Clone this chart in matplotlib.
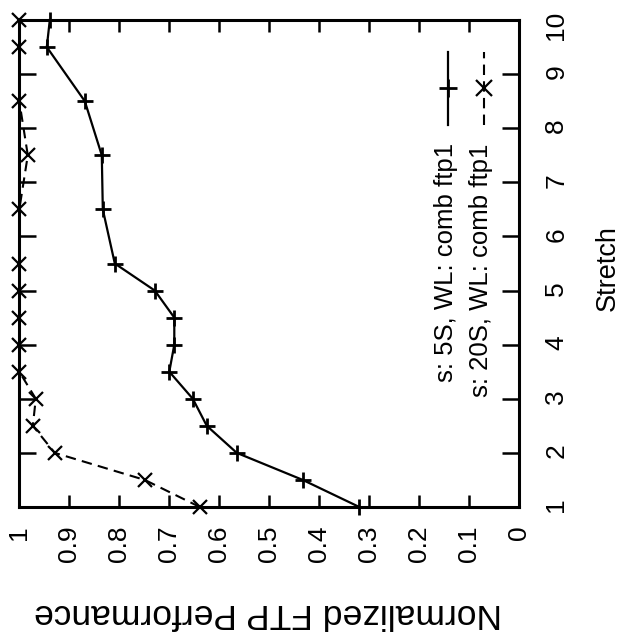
import numpy as np
import matplotlib
matplotlib.use("Agg")
import matplotlib.pyplot as plt

plt.rcParams["font.family"] = "Liberation Sans"

# data (stretch factor vs normalized FTP performance)
stretch = [1, 1.5, 2, 2.5, 3, 3.5, 4, 4.5, 5, 5.5, 6.5, 7.5, 8.5, 9.5, 10]
perf_5s = [0.32, 0.433, 0.565, 0.625, 0.653, 0.70, 0.69, 0.69, 0.729, 0.809,
           0.833, 0.835, 0.869, 0.945, 0.939]
perf_20s = [0.639, 0.749, 0.929, 0.973, 0.967, 1.0, 1.0, 1.0, 1.0, 1.0,
            1.0, 0.983, 1.0, 1.0, 1.0]
labels = ["s: 5S, WL: comb ftp1", "s: 20S, WL: comb ftp1"]

perf_ticks = [0, 0.1, 0.2, 0.3, 0.4, 0.5, 0.6, 0.7, 0.8, 0.9, 1]
perf_ticklabels = ["0", "0.1", "0.2", "0.3", "0.4", "0.5", "0.6", "0.7", "0.8", "0.9", "1"]
stretch_ticks = [1, 2, 3, 4, 5, 6, 7, 8, 9, 10]

fig = plt.figure(figsize=(6.24, 6.39), dpi=100)
ax = fig.add_axes([19.3 / 624, (639 - 507) / 639, 500 / 624, 487 / 639])

# the whole gnuplot page is turned by 90 degrees, so performance runs along x
ax.plot(perf_5s, stretch, color="black", lw=1.6, marker="+", ms=11, mew=2,
        clip_on=False, zorder=3)
ax.plot(perf_20s, stretch, color="black", lw=1.5, ls=(0, (5, 3)), marker="x",
        ms=10, mew=1.6, clip_on=False, zorder=3)

ax.set_xlim(1, 0)
ax.set_ylim(1, 10)
ax.set_xticks(perf_ticks)
ax.set_xticklabels(perf_ticklabels)
ax.set_yticks(stretch_ticks)

for s in ax.spines.values():
    s.set_linewidth(2.2)

ax.tick_params(axis="x", direction="in", top=True, bottom=True, length=8.6,
               width=1.8, pad=13, labelsize=19, labelrotation=90)
ax.tick_params(axis="y", direction="in", left=True, right=True, labelleft=False,
               labelright=True, length=12, width=1.8, pad=18, labelsize=19,
               labelrotation=90)

ax.set_xlabel("Normalized FTP Performance", rotation=180, fontsize=25.5, va="center")
ax.xaxis.set_label_coords(0.497, -0.218)
ax.yaxis.set_label_position("right")
ax.set_ylabel("Stretch", rotation=90, fontsize=19.5, va="center", ha="center")
ax.yaxis.set_label_coords(1.176, 0.49)

# key, drawn turned like the rest of the page
ax.text(0.853, 0.747, labels[0], rotation=90, ha="center", va="top",
        fontsize=18.5, transform=ax.transAxes)
ax.text(0.923, 0.747, labels[1], rotation=90, ha="center", va="top",
        fontsize=18.5, transform=ax.transAxes)
ax.plot([0.858, 0.858], [0.784, 0.934], color="black", lw=1.6, transform=ax.transAxes)
ax.plot([0.858], [0.860], color="black", marker="+", ms=13, mew=2,
        transform=ax.transAxes)
ax.plot([0.929, 0.929], [0.784, 0.934], color="black", lw=1.5, ls=(0, (5, 3)),
        transform=ax.transAxes)
ax.plot([0.929], [0.860], color="black", marker="x", ms=12, mew=1.6,
        transform=ax.transAxes)

fig.savefig("out.png", dpi=100)
plt.close()
